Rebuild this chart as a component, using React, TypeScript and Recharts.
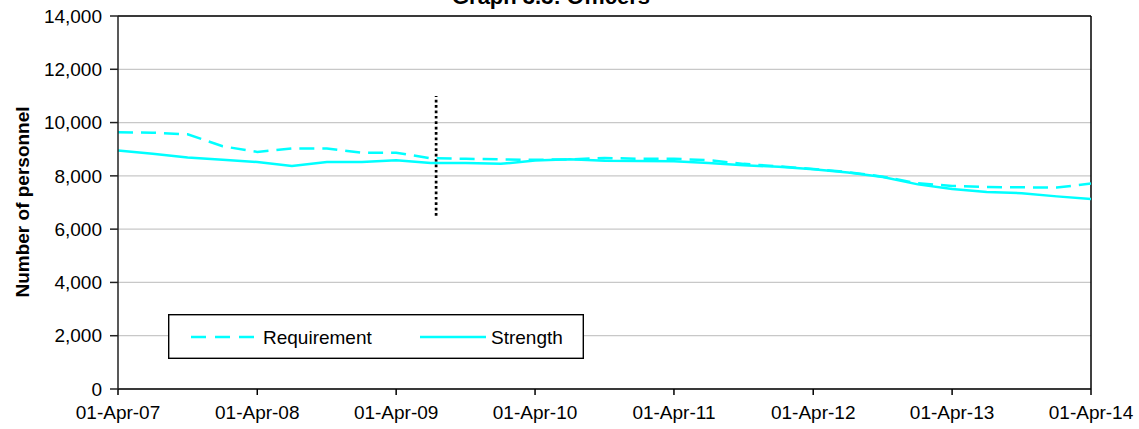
import React from 'react';
import { LineChart, Line, XAxis, YAxis, CartesianGrid, ReferenceLine, Legend } from 'recharts';

const dates = [
  '2007-04-01', '2007-07-01', '2007-10-01', '2008-01-01',
  '2008-04-01', '2008-07-01', '2008-10-01', '2009-01-01',
  '2009-04-01', '2009-07-01', '2009-10-01', '2010-01-01',
  '2010-04-01', '2010-07-01', '2010-10-01', '2011-01-01',
  '2011-04-01', '2011-07-01', '2011-10-01', '2012-01-01',
  '2012-04-01', '2012-07-01', '2012-10-01', '2013-01-01',
  '2013-04-01', '2013-07-01', '2013-10-01', '2014-01-01',
  '2014-04-01',
];
const requirement = [
  9640, 9620, 9560, 9110, 8900, 9030, 9030, 8870,
  8870, 8660, 8640, 8620, 8600, 8620, 8670, 8640,
  8640, 8590, 8450, 8360, 8260, 8140, 7970, 7720,
  7620, 7580, 7570, 7560, 7710,
];
const strength = [
  8950, 8830, 8690, 8600, 8520, 8370, 8520, 8520,
  8590, 8480, 8480, 8450, 8580, 8620, 8570, 8560,
  8550, 8480, 8400, 8340, 8250, 8130, 7960, 7680,
  7510, 7390, 7350, 7230, 7130,
];
const xTickDates = [
  '2007-04-01', '2008-04-01', '2009-04-01', '2010-04-01',
  '2011-04-01', '2012-04-01', '2013-04-01', '2014-04-01',
];
const yTicks = [0, 2000, 4000, 6000, 8000, 10000, 12000, 14000];
const markerDate = '2009-07-15';
const markerRange = [6500, 11000];

const toT = (d: string) => Date.parse(d + 'T00:00:00Z');
const data = dates.map((d, i) => ({ t: toT(d), requirement: requirement[i], strength: strength[i] }));
const xTicks = xTickDates.map(toT);
const MONTHS = ['Jan', 'Feb', 'Mar', 'Apr', 'May', 'Jun', 'Jul', 'Aug', 'Sep', 'Oct', 'Nov', 'Dec'];
const fmtDate = (t: number) => {
  const d = new Date(t);
  const dd = String(d.getUTCDate()).padStart(2, '0');
  const yy = String(d.getUTCFullYear() % 100).padStart(2, '0');
  return `${dd}-${MONTHS[d.getUTCMonth()]}-${yy}`;
};
const fmtNum = (v: number) => v.toLocaleString('en-US');

const FONT = '"Liberation Sans", Arial, Helvetica, sans-serif';
const CYAN = '#00FFFF';

const LegendBox = () => (
  <svg width={416} height={45} style={{ display: 'block' }}>
    <rect x={0.7} y={0.7} width={414.6} height={43.6} fill="#fff" stroke="#000" strokeWidth={1.4} />
    <line x1={23} y1={23} x2={88} y2={23} stroke={CYAN} strokeWidth={2.5} strokeDasharray="15 9" />
    <text x={95} y={29.5} fontFamily={FONT} fontSize={19} fill="#000">Requirement</text>
    <line x1={252} y1={23} x2={318} y2={23} stroke={CYAN} strokeWidth={2.5} />
    <text x={323} y={29.5} fontFamily={FONT} fontSize={19} fill="#000">Strength</text>
  </svg>
);

export default function App() {
  return (
    <div style={{ position: 'absolute', left: 0, top: 0, width: 1139, height: 429, background: '#fff', fontFamily: FONT }}>
      <LineChart width={1139} height={429} data={data} margin={{ top: 16, right: 48, bottom: 0, left: 0 }}>
        <CartesianGrid vertical={false} stroke="#c8c8c8" strokeWidth={1.2} />
        <XAxis
          dataKey="t"
          type="number"
          scale="time"
          domain={[xTicks[0], xTicks[xTicks.length - 1]]}
          ticks={xTicks}
          tickFormatter={fmtDate}
          height={40}
          tickSize={6}
          tickMargin={11}
          stroke="#000"
          strokeWidth={1.5}
          tick={{ fill: '#000', fontSize: 19, fontFamily: FONT }}
          interval={0}
        />
        <YAxis
          domain={[0, 14000]}
          ticks={yTicks}
          tickFormatter={fmtNum}
          width={118}
          tickSize={8}
          tickMargin={8}
          stroke="#222"
          strokeWidth={1.5}
          tick={{ fill: '#000', fontSize: 19, fontFamily: FONT }}
          interval={0}
          label={{
            content: () => (
              <text
                x={22}
                y={202}
                transform="rotate(-90 22 202)"
                textAnchor="middle"
                dominantBaseline="central"
                fontFamily={FONT}
                fontSize={19}
                fontWeight="bold"
                fill="#000"
              >
                Number of personnel
              </text>
            ),
          }}
        />
        <ReferenceLine y={14000} stroke="#000" strokeWidth={1.5} />
        <ReferenceLine x={xTicks[xTicks.length - 1]} stroke="#000" strokeWidth={1.5} />
        <ReferenceLine
          segment={[{ x: toT(markerDate), y: markerRange[0] }, { x: toT(markerDate), y: markerRange[1] }]}
          stroke="#000"
          strokeWidth={2.7}
          strokeDasharray="2.7 2.7"
        />
        <Line
          type="linear"
          dataKey="requirement"
          name="Requirement"
          stroke={CYAN}
          strokeWidth={2.5}
          strokeDasharray="15 8"
          dot={false}
          activeDot={false}
          isAnimationActive={false}
        />
        <Line
          type="linear"
          dataKey="strength"
          name="Strength"
          stroke={CYAN}
          strokeWidth={2.5}
          dot={false}
          activeDot={false}
          isAnimationActive={false}
        />
        <Legend
          layout="vertical"
          align="center"
          verticalAlign="middle"
          wrapperStyle={{ left: 168, top: 314, width: 416, height: 45 }}
          content={() => <LegendBox />}
        />
        <text x={551} y={4} textAnchor="middle" fontFamily={FONT} fontSize={22} fontWeight="bold" fill="#000">
          Graph 3.3: Officers
        </text>
      </LineChart>
    </div>
  );
}
